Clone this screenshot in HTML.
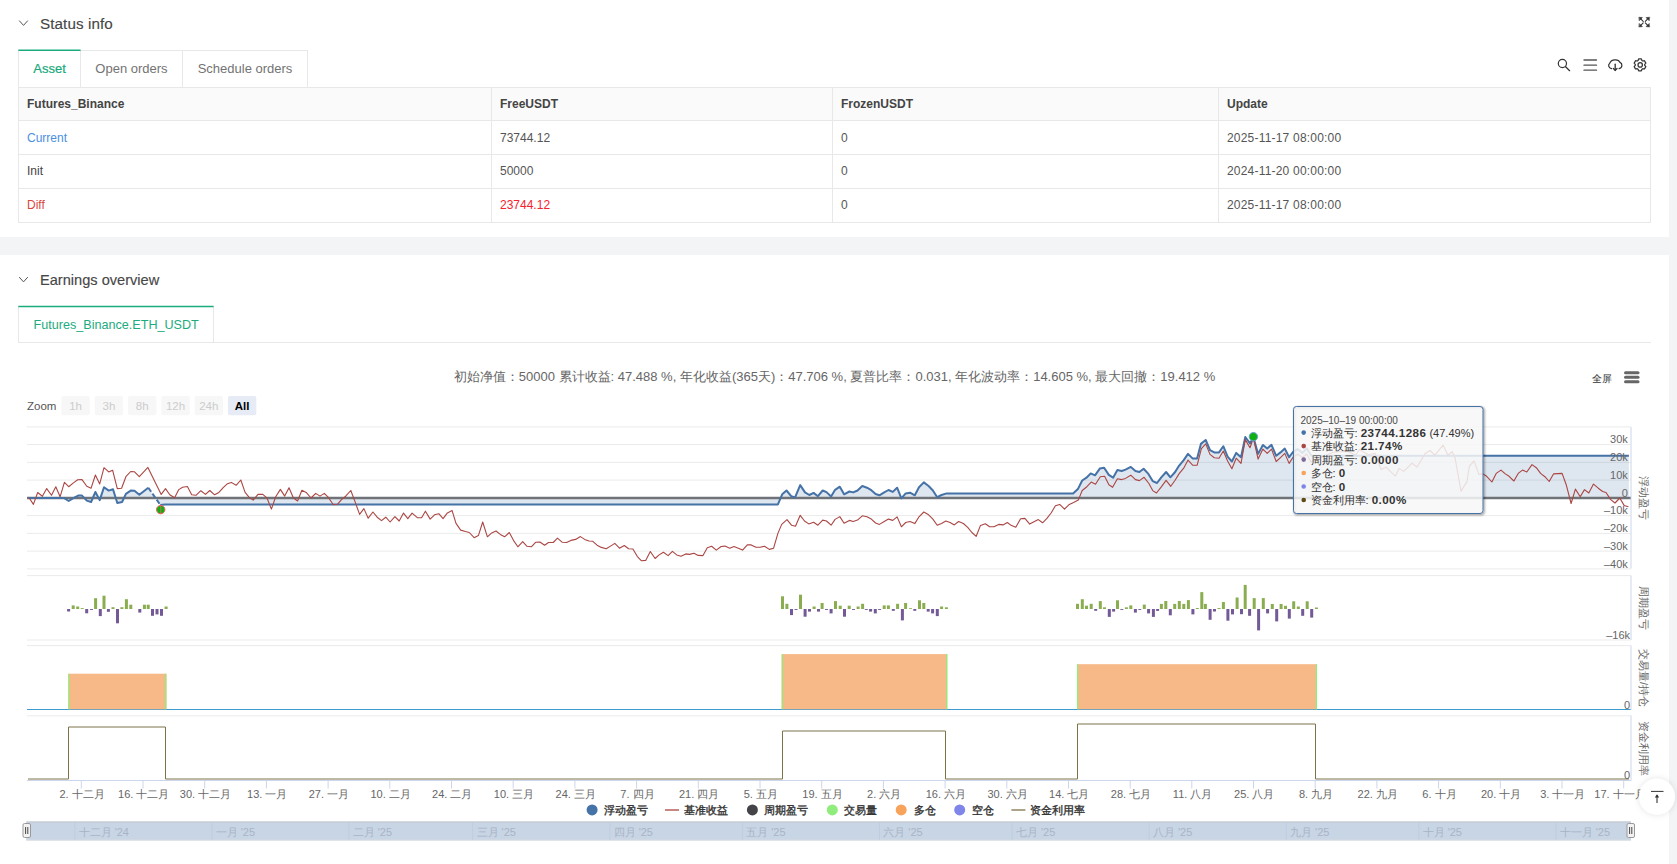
<!DOCTYPE html>
<html><head><meta charset="utf-8"><title>Status</title>
<style>
*{box-sizing:border-box}
html,body{margin:0;padding:0;background:#fff;width:1677px;height:864px;overflow:hidden;font-family:"Liberation Sans", sans-serif;color:#333}
.a{position:absolute}
.strip{left:1669px;top:0;width:8px;height:864px;background:#f3f4f6}
.band{left:0;top:237px;width:1669px;height:18px;background:#f3f4f6}
.h{font-size:15.2px;color:#474747;-webkit-text-stroke:0.15px #474747;letter-spacing:0.1px;line-height:18px;white-space:nowrap}
.tab{top:50px;height:37px;border:1px solid #e8e8e8;border-bottom:none;font-size:13px;color:#737373;text-align:center;line-height:36px;background:#fff}
.tab.act{color:#17a97b;border-top-color:#fff;-webkit-text-stroke:0.2px #17a97b}
.tbl{left:18px;top:87px;width:1633px;height:136px;border:1px solid #e8e8e8}
.row{position:absolute;left:0;width:1631px;border-bottom:1px solid #e8e8e8}
.cell{position:absolute;top:0;height:100%;font-size:12px;padding-left:8px;white-space:nowrap;border-left:1px solid #e8e8e8}
.hdr .cell{font-weight:bold;color:#444;top:0}
svg{position:absolute;left:0;top:0}
</style></head><body>
<div class="a strip"></div>
<div class="a band"></div>
<svg class="a" width="1677" height="864" viewBox="0 0 1677 864" style="left:0;top:0">
<polyline points="19.2,20.6 23.5,25.4 27.8,20.6" fill="none" stroke="#555" stroke-width="1"/>
<polyline points="19.2,277.1 23.5,281.9 27.8,277.1" fill="none" stroke="#555" stroke-width="1"/>
</svg>
<svg class="a" width="1677" height="864" viewBox="0 0 1677 864" style="left:0;top:0;z-index:5"><line x1="18.3" y1="50.3" x2="80.6" y2="50.3" stroke="#1bab7e" stroke-width="1.5"/><line x1="18.3" y1="306.4" x2="213.6" y2="306.4" stroke="#1bab7e" stroke-width="1.5"/></svg>
<div class="a h" style="left:40px;top:15px">Status info</div>
<div class="a h" style="left:40px;top:271px;font-size:14.6px;letter-spacing:0">Earnings overview</div>
<div class="a tab act" style="left:18px;width:63px">Asset</div>
<div class="a tab" style="left:80px;width:103px">Open orders</div>
<div class="a tab" style="left:182px;width:126px">Schedule orders</div>
<div class="a tbl">
 <div class="row hdr" style="top:0;height:33px;background:#fafafa">
  <div class="cell" style="left:0;border-left:none;line-height:33px">Futures_Binance</div>
  <div class="cell" style="left:472px;line-height:33px">FreeUSDT</div>
  <div class="cell" style="left:813px;line-height:33px">FrozenUSDT</div>
  <div class="cell" style="left:1199px;line-height:33px">Update</div>
 </div>
 <div class="row" style="top:33px;height:34px">
  <div class="cell" style="left:0;border-left:none;line-height:35px;color:#4a90e2">Current</div>
  <div class="cell" style="left:472px;line-height:35px;color:#555">73744.12</div>
  <div class="cell" style="left:813px;line-height:35px;color:#555">0</div>
  <div class="cell" style="left:1199px;line-height:35px;color:#555;letter-spacing:0.2px">2025-11-17 08:00:00</div>
 </div>
 <div class="row" style="top:67px;height:34px">
  <div class="cell" style="left:0;border-left:none;line-height:33px;color:#444">Init</div>
  <div class="cell" style="left:472px;line-height:33px;color:#555">50000</div>
  <div class="cell" style="left:813px;line-height:33px;color:#555">0</div>
  <div class="cell" style="left:1199px;line-height:33px;color:#555;letter-spacing:0.2px">2024-11-20 00:00:00</div>
 </div>
 <div class="row" style="top:101px;height:34px;border-bottom:none">
  <div class="cell" style="left:0;border-left:none;line-height:33px;color:#d9463e">Diff</div>
  <div class="cell" style="left:472px;line-height:33px;color:#f5222d">23744.12</div>
  <div class="cell" style="left:813px;line-height:33px;color:#555">0</div>
  <div class="cell" style="left:1199px;line-height:33px;color:#555;letter-spacing:0.2px">2025-11-17 08:00:00</div>
 </div>
</div>
<div class="a" style="left:18px;top:306px;width:196px;height:37px;border:1px solid #e8e8e8;border-top:1px solid #fff;border-bottom:none;font-size:12.6px;color:#1bab7e;line-height:36px;padding-left:14.6px;white-space:nowrap">Futures_Binance.ETH_USDT</div>
<div class="a" style="left:18px;top:342px;width:1633px;height:1px;background:#e8e8e8"></div>
<svg class="a" width="1677" height="864" viewBox="0 0 1677 864" style="font-family:"Liberation Sans", sans-serif">
<defs><filter id="sh" x="-50%" y="-50%" width="200%" height="200%"><feDropShadow dx="0" dy="0" stdDeviation="3" flood-color="#000" flood-opacity="0.12"/></filter></defs>
<!-- icons -->
<g fill="none" stroke="#333" stroke-width="1.3" stroke-linecap="round">
 <circle cx="1562.4" cy="63.5" r="4.1" stroke-width="1.2"/><line x1="1565.4" y1="66.5" x2="1569.6" y2="70.7" stroke-width="1.25"/>
 <line x1="1584" y1="60" x2="1596.5" y2="60" stroke="#555"/><line x1="1584" y1="65.2" x2="1596.5" y2="65.2" stroke="#555"/><line x1="1584" y1="70.2" x2="1596.5" y2="70.2" stroke="#555"/>
 <path d="M1611.6,68.7 C1608.6,68.2 1607.7,65 1609.8,63.1 C1611.2,59.2 1618.4,58.6 1620,62.4 C1622.7,63.6 1622.6,68 1619.1,68.7" stroke-width="1.25"/>
 <line x1="1615.2" y1="64.2" x2="1615.2" y2="70.3"/><polyline points="1613.4,68.5 1615.2,70.4 1617,68.5"/>
 <path d="M1638.07,60.51 L1638.63,58.91 L1641.37,58.91 L1641.93,60.51 L1642.79,61.01 L1644.46,60.69 L1645.83,63.07 L1644.72,64.35 L1644.72,65.35 L1645.83,66.63 L1644.46,69.01 L1642.79,68.69 L1641.93,69.19 L1641.37,70.79 L1638.63,70.79 L1638.07,69.19 L1637.21,68.69 L1635.54,69.01 L1634.17,66.63 L1635.28,65.35 L1635.28,64.35 L1634.17,63.07 L1635.54,60.69 L1637.21,61.01 Z" stroke-linejoin="round" stroke-width="1.25"/>
 <circle cx="1640.2" cy="64.9" r="2.2" stroke-width="1.25"/>
</g>
<g stroke="#333" stroke-width="1.1" stroke-linecap="round" fill="#333">
 <line x1="1640.5" y1="18.6" x2="1643.2" y2="21.3"/><polygon points="1639.2,17.3 1642.4,17.6 1639.5,20.5" stroke-width="0.6"/>
 <line x1="1648" y1="18.6" x2="1645.3" y2="21.3"/><polygon points="1649.3,17.3 1646.1,17.6 1649,20.5" stroke-width="0.6"/>
 <line x1="1640.5" y1="25.6" x2="1643.2" y2="22.9"/><polygon points="1639.2,26.9 1642.4,26.6 1639.5,23.7" stroke-width="0.6"/>
 <line x1="1648" y1="25.6" x2="1645.3" y2="22.9"/><polygon points="1649.3,26.9 1646.1,26.6 1649,23.7" stroke-width="0.6"/>
</g>
<text x="834.5" y="380.6" text-anchor="middle" font-size="13" fill="#666">初始净值：50000 累计收益: 47.488 %, 年化收益(365天)：47.706 %, 夏普比率：0.031, 年化波动率：14.605 %, 最大回撤：19.412 %</text>
<text x="1591.6" y="381.6" font-size="10.4" fill="#333">全屏</text>
<line x1="1625.5" y1="372.8" x2="1638" y2="372.8" stroke="#666" stroke-width="3" stroke-linecap="round"/>
<line x1="1625.5" y1="377.3" x2="1638" y2="377.3" stroke="#666" stroke-width="3" stroke-linecap="round"/>
<line x1="1625.5" y1="381.8" x2="1638" y2="381.8" stroke="#666" stroke-width="3" stroke-linecap="round"/>
<text x="27" y="410" font-size="11.5" fill="#555">Zoom</text>
<rect x="61.4" y="396" width="28.4" height="19.3" rx="2" fill="#f7f7f7"/>
<text x="75.6" y="410" text-anchor="middle" font-size="11.5" fill="#ccc">1h</text>
<rect x="94.7" y="396" width="28.4" height="19.3" rx="2" fill="#f7f7f7"/>
<text x="108.9" y="410" text-anchor="middle" font-size="11.5" fill="#ccc">3h</text>
<rect x="128.0" y="396" width="28.4" height="19.3" rx="2" fill="#f7f7f7"/>
<text x="142.2" y="410" text-anchor="middle" font-size="11.5" fill="#ccc">8h</text>
<rect x="161.3" y="396" width="28.4" height="19.3" rx="2" fill="#f7f7f7"/>
<text x="175.5" y="410" text-anchor="middle" font-size="11.5" fill="#ccc">12h</text>
<rect x="194.6" y="396" width="28.4" height="19.3" rx="2" fill="#f7f7f7"/>
<text x="208.8" y="410" text-anchor="middle" font-size="11.5" fill="#ccc">24h</text>
<rect x="227.9" y="396" width="28.4" height="19.3" rx="2" fill="#e6ebf5"/>
<text x="242.1" y="410" text-anchor="middle" font-size="11.5" font-weight="bold" fill="#000">All</text>
<line x1="27" y1="426.9" x2="1631" y2="426.9" stroke="#ebebeb" stroke-width="1"/>
<line x1="27" y1="444.6" x2="1631" y2="444.6" stroke="#ebebeb" stroke-width="1"/>
<line x1="27" y1="462.4" x2="1631" y2="462.4" stroke="#ebebeb" stroke-width="1"/>
<line x1="27" y1="480.1" x2="1631" y2="480.1" stroke="#ebebeb" stroke-width="1"/>
<line x1="27" y1="497.9" x2="1631" y2="497.9" stroke="#ebebeb" stroke-width="1"/>
<line x1="27" y1="515.6" x2="1631" y2="515.6" stroke="#ebebeb" stroke-width="1"/>
<line x1="27" y1="533.4" x2="1631" y2="533.4" stroke="#ebebeb" stroke-width="1"/>
<line x1="27" y1="551.1" x2="1631" y2="551.1" stroke="#ebebeb" stroke-width="1"/>
<line x1="27" y1="568.9" x2="1631" y2="568.9" stroke="#ebebeb" stroke-width="1"/>
<polygon points="28.5,498.0 28.5,498.0 63.9,498.0 68.7,501.0 73.4,498.2 78.2,495.6 82.0,495.6 86.8,500.6 91.1,502.0 95.4,492.0 99.7,500.1 104.0,487.2 108.7,490.6 113.0,489.3 117.3,503.0 122.1,502.0 125.9,493.9 130.7,490.6 134.5,490.8 139.3,494.7 148.3,487.7 160.3,504.9 165.0,504.4 777.9,504.4 782.2,494.3 786.5,490.5 791.2,496.2 795.1,497.4 800.2,485.1 805.0,492.4 809.3,495.0 813.6,492.9 817.9,496.2 822.7,490.5 826.5,492.1 831.1,496.5 835.1,489.8 839.8,486.7 844.1,494.3 849.4,491.5 853.2,492.4 857.5,490.5 862.3,486.0 867.0,487.7 871.3,490.2 875.6,494.0 879.4,495.3 884.2,492.4 888.5,490.0 892.8,491.9 897.1,487.7 901.4,498.4 905.7,493.4 910.0,492.7 914.8,495.3 919.0,487.2 923.8,482.4 928.6,486.0 932.9,490.5 937.2,497.2 941.5,495.0 946.7,493.4 1073.1,493.4 1077.9,489.1 1082.2,480.5 1086.5,477.7 1090.7,473.4 1095.0,475.3 1099.8,468.6 1104.1,467.8 1108.8,474.9 1113.1,477.7 1117.4,470.1 1121.7,471.0 1125.5,469.6 1130.8,466.9 1135.5,471.0 1139.4,472.0 1143.6,468.7 1148.4,473.9 1152.7,481.1 1157.0,483.0 1161.3,477.3 1166.1,472.0 1170.4,477.3 1175.1,472.0 1179.0,465.8 1183.7,460.1 1188.0,453.9 1192.8,458.6 1197.1,458.6 1200.9,443.9 1205.7,440.0 1210.0,450.1 1214.3,452.4 1219.0,452.4 1223.3,446.2 1227.6,456.7 1231.9,461.5 1236.2,452.9 1241.0,457.2 1245.3,437.0 1250.0,443.4 1253.4,437.2 1258.1,453.9 1262.9,445.0 1267.2,448.6 1271.5,444.8 1276.2,455.8 1280.5,452.4 1284.8,448.6 1289.1,457.2 1293.4,451.5 1297.7,449.1 1302.5,452.9 1306.8,448.4 1311.5,455.8 1628.9,455.8 1628.9,498.0" fill="#4572a7" fill-opacity="0.175"/>
<line x1="27" y1="498" x2="1631" y2="498" stroke="#6f7378" stroke-width="2.4"/>
<polyline points="28.5,498.0 63.9,498.0 68.7,501.0 73.4,498.2 78.2,495.6 82.0,495.6 86.8,500.6 91.1,502.0 95.4,492.0 99.7,500.1 104.0,487.2 108.7,490.6 113.0,489.3 117.3,503.0 122.1,502.0 125.9,493.9 130.7,490.6 134.5,490.8 139.3,494.7 148.3,487.7" fill="none" stroke="#4572a7" stroke-width="2" stroke-linejoin="round"/>
<polyline points="148.3,487.7 160.3,504.9" fill="none" stroke="#4572a7" stroke-width="2" stroke-dasharray="5,2.3"/>
<polyline points="160.3,504.9 165.0,504.4 777.9,504.4 782.2,494.3 786.5,490.5 791.2,496.2 795.1,497.4 800.2,485.1 805.0,492.4 809.3,495.0 813.6,492.9 817.9,496.2 822.7,490.5 826.5,492.1 831.1,496.5 835.1,489.8 839.8,486.7 844.1,494.3 849.4,491.5 853.2,492.4 857.5,490.5 862.3,486.0 867.0,487.7 871.3,490.2 875.6,494.0 879.4,495.3 884.2,492.4 888.5,490.0 892.8,491.9 897.1,487.7 901.4,498.4 905.7,493.4 910.0,492.7 914.8,495.3 919.0,487.2 923.8,482.4 928.6,486.0 932.9,490.5 937.2,497.2 941.5,495.0 946.7,493.4 1073.1,493.4 1077.9,489.1 1082.2,480.5 1086.5,477.7 1090.7,473.4 1095.0,475.3 1099.8,468.6 1104.1,467.8 1108.8,474.9 1113.1,477.7 1117.4,470.1 1121.7,471.0 1125.5,469.6 1130.8,466.9 1135.5,471.0 1139.4,472.0 1143.6,468.7 1148.4,473.9 1152.7,481.1 1157.0,483.0 1161.3,477.3 1166.1,472.0 1170.4,477.3 1175.1,472.0 1179.0,465.8 1183.7,460.1 1188.0,453.9 1192.8,458.6 1197.1,458.6 1200.9,443.9 1205.7,440.0 1210.0,450.1 1214.3,452.4 1219.0,452.4 1223.3,446.2 1227.6,456.7 1231.9,461.5 1236.2,452.9 1241.0,457.2 1245.3,437.0 1250.0,443.4 1253.4,437.2 1258.1,453.9 1262.9,445.0 1267.2,448.6 1271.5,444.8 1276.2,455.8 1280.5,452.4 1284.8,448.6 1289.1,457.2 1293.4,451.5 1297.7,449.1 1302.5,452.9 1306.8,448.4 1311.5,455.8 1628.9,455.8" fill="none" stroke="#4572a7" stroke-width="2" stroke-linejoin="round"/>
<polyline points="29.1,497.7 33.4,504.4 37.7,492.5 42.4,496.3 46.7,488.6 51.5,495.3 55.8,486.7 60.1,496.8 64.4,482.4 68.7,486.7 73.4,482.9 77.7,479.8 82.0,479.6 86.8,486.3 91.1,488.2 95.4,475.0 99.7,483.9 104.0,467.7 108.7,471.9 112.6,470.2 117.3,488.6 121.6,488.2 125.9,476.7 130.7,471.5 134.5,471.8 139.3,476.7 147.9,467.4 161.2,494.4 165.5,488.6 169.8,494.8 174.6,497.7 178.8,489.6 182.6,487.2 187.4,486.5 191.7,494.8 196.0,495.3 200.8,490.7 205.5,494.4 209.8,490.5 214.6,494.8 218.9,492.4 223.2,487.7 227.5,483.7 231.3,482.4 236.1,485.3 240.8,480.0 245.1,492.4 249.0,497.2 253.2,500.1 258.0,494.4 262.8,494.4 267.1,498.2 271.4,509.1 275.7,496.7 280.4,489.4 284.7,496.1 289.0,487.7 293.3,497.7 297.6,501.0 301.9,490.3 306.2,492.4 311.0,498.0 315.7,493.4 320.0,496.1 324.3,493.4 328.6,497.7 333.3,504.8 337.6,504.2 341.5,499.6 345.7,496.2 350.8,490.5 355.3,502.4 359.6,514.4 363.9,508.6 368.2,518.2 372.9,512.0 377.2,517.2 381.5,520.6 385.8,517.2 390.1,522.0 394.9,516.6 399.2,521.0 403.5,513.1 407.8,518.7 412.1,513.1 417.3,517.7 421.6,517.7 425.4,511.2 430.2,519.1 434.5,514.8 438.8,513.7 443.1,518.7 447.4,512.9 452.1,510.6 456.0,523.4 460.7,530.1 465.5,531.5 469.3,532.5 474.1,537.7 478.4,535.6 482.7,522.0 487.4,536.8 491.7,532.9 496.0,531.0 500.3,534.4 504.6,536.8 509.3,532.5 513.6,540.6 517.9,546.8 522.7,541.7 527.0,546.3 531.3,546.8 535.6,542.3 539.9,542.0 544.6,545.3 548.5,542.5 553.2,542.5 557.5,538.2 562.3,542.3 566.6,542.5 570.9,540.4 575.6,539.4 580.4,536.6 584.7,539.4 589.0,541.0 592.8,541.3 597.1,545.2 601.4,547.4 606.2,548.7 610.5,546.1 614.8,543.4 619.5,548.2 624.3,545.5 628.6,548.7 632.9,549.0 637.2,556.3 641.5,560.8 645.7,560.4 650.3,551.5 655.1,558.5 659.1,554.9 663.4,552.2 668.1,555.6 672.4,551.3 676.7,554.9 681.0,556.3 685.8,553.9 689.6,554.4 693.9,553.2 698.2,555.4 703.0,555.6 707.3,547.7 711.6,546.3 716.3,550.1 721.1,546.5 724.9,546.1 729.7,548.2 734.0,546.5 738.3,548.2 742.6,550.1 747.3,544.9 751.2,544.9 755.9,547.3 760.2,547.3 764.5,546.3 769.3,549.4 773.6,548.2 777.9,533.4 781.7,524.4 787.0,519.6 791.7,525.3 795.5,526.3 800.2,515.3 804.5,521.0 808.8,523.9 813.6,522.3 817.9,525.2 822.7,520.1 826.5,521.0 831.1,525.2 835.1,519.4 839.8,516.6 844.1,523.2 849.4,520.4 853.2,521.5 857.5,520.1 862.3,515.8 867.0,516.8 871.3,519.1 875.6,523.0 879.4,524.4 884.2,521.5 888.5,519.1 892.8,520.4 897.1,516.9 901.4,526.8 905.7,522.5 910.0,521.5 914.8,523.6 919.0,516.8 923.8,512.0 928.6,514.8 932.9,519.1 937.2,525.3 941.5,523.4 945.8,521.0 950.1,522.5 954.3,524.9 958.6,521.5 963.4,523.5 967.7,527.3 971.9,532.5 976.2,536.3 980.5,525.4 985.3,523.7 989.6,526.8 993.9,526.8 998.7,524.4 1003.0,524.9 1007.3,522.5 1011.5,525.6 1015.8,527.3 1020.6,518.7 1024.9,518.4 1029.7,524.1 1034.0,521.8 1038.3,519.6 1042.6,522.8 1046.9,518.4 1051.1,513.0 1055.4,505.8 1059.7,504.4 1064.5,509.1 1069.3,504.4 1073.6,502.5 1078.3,500.1 1082.2,490.5 1086.9,486.7 1091.2,482.1 1095.5,484.3 1100.3,476.7 1104.6,476.2 1108.9,484.8 1112.6,487.3 1117.4,478.7 1121.7,479.6 1125.5,478.4 1130.8,475.2 1135.5,479.6 1139.4,480.6 1144.1,477.3 1148.9,483.5 1152.7,490.6 1156.5,493.0 1161.3,486.8 1166.1,480.3 1170.8,486.3 1175.1,480.3 1179.0,473.9 1183.7,468.2 1188.0,460.1 1192.8,465.3 1197.1,465.3 1201.4,448.6 1205.7,443.9 1210.0,454.4 1214.3,457.7 1219.0,458.2 1223.3,451.0 1227.6,461.0 1231.9,468.7 1236.2,458.2 1241.0,463.4 1245.3,439.6 1250.0,447.7 1253.4,438.1 1258.1,459.1 1262.9,449.1 1267.2,453.4 1271.5,449.1 1276.2,461.5 1280.5,457.7 1284.8,453.4 1289.1,463.4 1293.4,456.7 1297.9,454.2 1302.5,457.5 1306.8,454.0 1311.0,461.9 1316.3,459.0 1321.0,457.5 1327.0,455.0 1333.2,452.3 1340.0,451.8 1347.5,451.4 1355.6,455.0 1359.4,449.5 1362.7,451.4 1368.5,454.7 1375.1,453.3 1381.1,469.6 1385.9,467.2 1395.4,476.2 1399.0,468.4 1403.8,471.4 1412.1,463.1 1416.9,467.2 1425.2,453.5 1430.0,450.5 1434.8,455.1 1443.1,445.2 1447.9,455.1 1452.1,451.7 1455.0,457.7 1461.0,491.1 1467.0,481.6 1469.4,466.0 1474.1,461.0 1478.9,474.4 1482.9,473.9 1486.7,476.3 1491.9,482.0 1496.2,473.4 1501.0,470.1 1505.3,473.9 1509.1,476.3 1513.9,481.0 1518.2,473.4 1522.5,470.1 1526.8,472.0 1532.0,464.6 1536.3,467.7 1540.6,473.4 1544.9,476.7 1549.2,481.5 1553.5,473.9 1562.1,473.4 1566.4,485.3 1571.1,503.5 1575.4,489.1 1580.2,496.8 1584.5,489.6 1588.8,493.0 1593.5,484.1 1598.3,488.2 1602.6,491.5 1606.0,492.5 1610.7,499.6 1615.0,503.0 1619.8,498.0 1624.1,505.4 1628.4,506.8" fill="none" stroke="#aa4643" stroke-width="1.1" stroke-linejoin="round"/>
<circle cx="160.7" cy="509.6" r="4.2" fill="#10b010" stroke="#f06060" stroke-width="1"/>
<line x1="160.7" y1="505" x2="160.7" y2="514" stroke="#f06060" stroke-width="0.8"/>
<circle cx="1253.4" cy="436.7" r="4.2" fill="#10b010" stroke="#6f9fe0" stroke-width="1"/>
<line x1="1631" y1="427" x2="1631" y2="568.5" stroke="#ccd6eb" stroke-width="1"/>
<text x="1627.8" y="443.4" text-anchor="end" font-size="11" fill="#666">30k</text>
<text x="1627.8" y="461.2" text-anchor="end" font-size="11" fill="#666">20k</text>
<text x="1627.8" y="478.9" text-anchor="end" font-size="11" fill="#666">10k</text>
<text x="1627.8" y="496.7" text-anchor="end" font-size="11" fill="#666">0</text>
<text x="1627.8" y="514.4" text-anchor="end" font-size="11" fill="#666">&#8211;10k</text>
<text x="1627.8" y="532.2" text-anchor="end" font-size="11" fill="#666">&#8211;20k</text>
<text x="1627.8" y="549.9" text-anchor="end" font-size="11" fill="#666">&#8211;30k</text>
<text x="1627.8" y="567.7" text-anchor="end" font-size="11" fill="#666">&#8211;40k</text>
<text transform="translate(1644,497.5) rotate(90)" text-anchor="middle" y="4" font-size="11" fill="#666">浮动盈亏</text>
<line x1="27" y1="575.6" x2="1631" y2="575.6" stroke="#ebebeb"/>
<line x1="27" y1="640" x2="1631" y2="640" stroke="#ebebeb"/>
<line x1="1631" y1="575.6" x2="1631" y2="640" stroke="#ccd6eb"/>
<rect x="71.7" y="605.4" width="3" height="3.6" fill="#8aad50"/>
<rect x="76.2" y="606.5" width="3" height="2.5" fill="#8aad50"/>
<rect x="80.7" y="608.1" width="3" height="0.9" fill="#8aad50"/>
<rect x="94.1" y="598.2" width="3" height="10.8" fill="#8aad50"/>
<rect x="102.5" y="595.7" width="3" height="13.3" fill="#8aad50"/>
<rect x="111.5" y="607.2" width="3" height="1.8" fill="#8aad50"/>
<rect x="120.4" y="607.2" width="3" height="1.8" fill="#8aad50"/>
<rect x="124.9" y="599.2" width="3" height="9.8" fill="#8aad50"/>
<rect x="129.3" y="604.7" width="3" height="4.3" fill="#8aad50"/>
<rect x="142.9" y="604.7" width="3" height="4.3" fill="#8aad50"/>
<rect x="146.7" y="604.7" width="3" height="4.3" fill="#8aad50"/>
<rect x="164.6" y="606.5" width="3" height="2.5" fill="#8aad50"/>
<rect x="781.0" y="596.3" width="3" height="12.7" fill="#8aad50"/>
<rect x="785.4" y="603.8" width="3" height="5.2" fill="#8aad50"/>
<rect x="799.0" y="594.7" width="3" height="14.3" fill="#8aad50"/>
<rect x="812.6" y="606.5" width="3" height="2.5" fill="#8aad50"/>
<rect x="820.6" y="603.0" width="3" height="6.0" fill="#8aad50"/>
<rect x="834.0" y="601.1" width="3" height="7.9" fill="#8aad50"/>
<rect x="838.7" y="605.7" width="3" height="3.3" fill="#8aad50"/>
<rect x="847.7" y="605.7" width="3" height="3.3" fill="#8aad50"/>
<rect x="856.6" y="606.5" width="3" height="2.5" fill="#8aad50"/>
<rect x="861.1" y="603.8" width="3" height="5.2" fill="#8aad50"/>
<rect x="882.7" y="605.4" width="3" height="3.6" fill="#8aad50"/>
<rect x="886.9" y="605.4" width="3" height="3.6" fill="#8aad50"/>
<rect x="896.1" y="603.8" width="3" height="5.2" fill="#8aad50"/>
<rect x="904.1" y="603.0" width="3" height="6.0" fill="#8aad50"/>
<rect x="909.0" y="608.2" width="3" height="0.8" fill="#8aad50"/>
<rect x="918.0" y="600.3" width="3" height="8.7" fill="#8aad50"/>
<rect x="922.3" y="603.0" width="3" height="6.0" fill="#8aad50"/>
<rect x="940.1" y="606.5" width="3" height="2.5" fill="#8aad50"/>
<rect x="944.9" y="607.3" width="3" height="1.7" fill="#8aad50"/>
<rect x="1076.0" y="603.8" width="3" height="5.2" fill="#8aad50"/>
<rect x="1080.8" y="599.2" width="3" height="9.8" fill="#8aad50"/>
<rect x="1085.0" y="605.7" width="3" height="3.3" fill="#8aad50"/>
<rect x="1089.7" y="603.8" width="3" height="5.2" fill="#8aad50"/>
<rect x="1098.8" y="601.1" width="3" height="7.9" fill="#8aad50"/>
<rect x="1103.0" y="607.3" width="3" height="1.7" fill="#8aad50"/>
<rect x="1116.0" y="600.3" width="3" height="8.7" fill="#8aad50"/>
<rect x="1124.9" y="607.3" width="3" height="1.7" fill="#8aad50"/>
<rect x="1129.3" y="605.4" width="3" height="3.6" fill="#8aad50"/>
<rect x="1142.8" y="604.6" width="3" height="4.4" fill="#8aad50"/>
<rect x="1159.9" y="603.9" width="3" height="5.1" fill="#8aad50"/>
<rect x="1164.3" y="601.0" width="3" height="8.0" fill="#8aad50"/>
<rect x="1173.2" y="603.9" width="3" height="5.1" fill="#8aad50"/>
<rect x="1177.8" y="601.0" width="3" height="8.0" fill="#8aad50"/>
<rect x="1182.3" y="603.9" width="3" height="5.1" fill="#8aad50"/>
<rect x="1186.9" y="600.1" width="3" height="8.9" fill="#8aad50"/>
<rect x="1195.8" y="608.0" width="3" height="1.0" fill="#8aad50"/>
<rect x="1200.3" y="592.1" width="3" height="16.9" fill="#8aad50"/>
<rect x="1203.9" y="603.9" width="3" height="5.1" fill="#8aad50"/>
<rect x="1217.5" y="608.0" width="3" height="1.0" fill="#8aad50"/>
<rect x="1221.9" y="602.0" width="3" height="7.0" fill="#8aad50"/>
<rect x="1235.6" y="597.5" width="3" height="11.5" fill="#8aad50"/>
<rect x="1243.7" y="584.9" width="3" height="24.1" fill="#8aad50"/>
<rect x="1252.7" y="598.1" width="3" height="10.9" fill="#8aad50"/>
<rect x="1261.8" y="598.1" width="3" height="10.9" fill="#8aad50"/>
<rect x="1270.8" y="604.0" width="3" height="5.0" fill="#8aad50"/>
<rect x="1279.6" y="604.0" width="3" height="5.0" fill="#8aad50"/>
<rect x="1284.0" y="605.8" width="3" height="3.2" fill="#8aad50"/>
<rect x="1292.2" y="601.3" width="3" height="7.7" fill="#8aad50"/>
<rect x="1296.8" y="606.5" width="3" height="2.5" fill="#8aad50"/>
<rect x="1305.7" y="601.3" width="3" height="7.7" fill="#8aad50"/>
<rect x="1314.9" y="607.5" width="3" height="1.5" fill="#8aad50"/>
<rect x="67.1" y="609" width="3" height="2.5" fill="#735a96"/>
<rect x="85.2" y="609" width="3" height="4.3" fill="#735a96"/>
<rect x="90.0" y="609" width="3" height="0.9" fill="#735a96"/>
<rect x="98.8" y="609" width="3" height="7.1" fill="#735a96"/>
<rect x="106.9" y="609" width="3" height="2.8" fill="#735a96"/>
<rect x="116.0" y="609" width="3" height="14.3" fill="#735a96"/>
<rect x="138.3" y="609" width="3" height="3.6" fill="#735a96"/>
<rect x="151.0" y="609" width="3" height="6.8" fill="#735a96"/>
<rect x="155.5" y="609" width="3" height="5.4" fill="#735a96"/>
<rect x="160.0" y="609" width="3" height="6.8" fill="#735a96"/>
<rect x="790.0" y="609" width="3" height="6.1" fill="#735a96"/>
<rect x="794.5" y="609" width="3" height="0.9" fill="#735a96"/>
<rect x="803.6" y="609" width="3" height="7.7" fill="#735a96"/>
<rect x="808.0" y="609" width="3" height="2.6" fill="#735a96"/>
<rect x="817.0" y="609" width="3" height="2.6" fill="#735a96"/>
<rect x="825.0" y="609" width="3" height="0.9" fill="#735a96"/>
<rect x="829.6" y="609" width="3" height="4.4" fill="#735a96"/>
<rect x="843.0" y="609" width="3" height="7.7" fill="#735a96"/>
<rect x="852.0" y="609" width="3" height="0.9" fill="#735a96"/>
<rect x="864.8" y="609" width="3" height="0.9" fill="#735a96"/>
<rect x="869.1" y="609" width="3" height="2.6" fill="#735a96"/>
<rect x="873.8" y="609" width="3" height="4.4" fill="#735a96"/>
<rect x="878.1" y="609" width="3" height="0.9" fill="#735a96"/>
<rect x="891.8" y="609" width="3" height="1.8" fill="#735a96"/>
<rect x="900.9" y="609" width="3" height="11.4" fill="#735a96"/>
<rect x="913.3" y="609" width="3" height="1.8" fill="#735a96"/>
<rect x="926.7" y="609" width="3" height="2.6" fill="#735a96"/>
<rect x="931.1" y="609" width="3" height="4.4" fill="#735a96"/>
<rect x="935.8" y="609" width="3" height="7.1" fill="#735a96"/>
<rect x="1094.2" y="609" width="3" height="1.8" fill="#735a96"/>
<rect x="1107.8" y="609" width="3" height="7.9" fill="#735a96"/>
<rect x="1112.1" y="609" width="3" height="2.6" fill="#735a96"/>
<rect x="1120.3" y="609" width="3" height="0.9" fill="#735a96"/>
<rect x="1133.9" y="609" width="3" height="3.6" fill="#735a96"/>
<rect x="1138.3" y="609" width="3" height="0.9" fill="#735a96"/>
<rect x="1147.1" y="609" width="3" height="4.4" fill="#735a96"/>
<rect x="1151.9" y="609" width="3" height="7.9" fill="#735a96"/>
<rect x="1156.1" y="609" width="3" height="1.9" fill="#735a96"/>
<rect x="1168.8" y="609" width="3" height="6.3" fill="#735a96"/>
<rect x="1191.4" y="609" width="3" height="5.4" fill="#735a96"/>
<rect x="1208.6" y="609" width="3" height="10.8" fill="#735a96"/>
<rect x="1213.0" y="609" width="3" height="2.5" fill="#735a96"/>
<rect x="1226.4" y="609" width="3" height="11.7" fill="#735a96"/>
<rect x="1231.0" y="609" width="3" height="5.4" fill="#735a96"/>
<rect x="1240.0" y="609" width="3" height="5.2" fill="#735a96"/>
<rect x="1248.1" y="609" width="3" height="6.8" fill="#735a96"/>
<rect x="1257.1" y="609" width="3" height="21.4" fill="#735a96"/>
<rect x="1266.1" y="609" width="3" height="4.4" fill="#735a96"/>
<rect x="1275.2" y="609" width="3" height="12.4" fill="#735a96"/>
<rect x="1287.8" y="609" width="3" height="9.6" fill="#735a96"/>
<rect x="1301.2" y="609" width="3" height="6.8" fill="#735a96"/>
<rect x="1310.2" y="609" width="3" height="8.6" fill="#735a96"/>
<text x="1630" y="638.5" text-anchor="end" font-size="11" fill="#666">&#8211;16k</text>
<text transform="translate(1644,607.7) rotate(90)" text-anchor="middle" y="4" font-size="11" fill="#666">周期盈亏</text>
<line x1="27" y1="645.6" x2="1631" y2="645.6" stroke="#ebebeb"/>
<line x1="27" y1="709.5" x2="1631" y2="709.5" stroke="#3d9bd0" stroke-width="1.2"/>
<line x1="1631" y1="645.6" x2="1631" y2="710" stroke="#ccd6eb"/>
<rect x="68.3" y="673.7" width="98.1" height="35.6" fill="#f7b987"/>
<line x1="68.89999999999999" y1="673.7" x2="68.89999999999999" y2="709.3" stroke="#90ed7d" stroke-width="1.3"/>
<line x1="165.8" y1="673.7" x2="165.8" y2="709.3" stroke="#90ed7d" stroke-width="1.3"/>
<rect x="781.7" y="654.1" width="165.6" height="55.2" fill="#f7b987"/>
<line x1="782.3000000000001" y1="654.1" x2="782.3000000000001" y2="709.3" stroke="#90ed7d" stroke-width="1.3"/>
<line x1="946.6999999999999" y1="654.1" x2="946.6999999999999" y2="709.3" stroke="#90ed7d" stroke-width="1.3"/>
<rect x="1077" y="664.2" width="240.0" height="45.1" fill="#f7b987"/>
<line x1="1077.6" y1="664.2" x2="1077.6" y2="709.3" stroke="#90ed7d" stroke-width="1.3"/>
<line x1="1316.4" y1="664.2" x2="1316.4" y2="709.3" stroke="#90ed7d" stroke-width="1.3"/>
<text x="1630" y="708.5" text-anchor="end" font-size="11" fill="#666">0</text>
<text transform="translate(1644,678) rotate(90)" text-anchor="middle" y="4" font-size="11" fill="#666">交易量/持仓</text>
<line x1="27" y1="715.8" x2="1631" y2="715.8" stroke="#ebebeb"/>
<line x1="1631" y1="715.5" x2="1631" y2="780.5" stroke="#ccd6eb"/>
<line x1="27" y1="780.5" x2="1631" y2="780.5" stroke="#ccd6eb"/>
<path d="M28,779 H68.5 V727 H165.5 V779 H782.5 V731 H945.5 V779 H1077.5 V724 H1315.5 V779 H1629" fill="none" stroke="#7d7349" stroke-width="1"/>
<text x="1630" y="778.5" text-anchor="end" font-size="11" fill="#666">0</text>
<text transform="translate(1644,748) rotate(90)" text-anchor="middle" y="4" font-size="11" fill="#666">资金利用率</text>
<line x1="81.3" y1="780.5" x2="81.3" y2="788.5" stroke="#ccd6eb"/>
<text x="82.1" y="797.5" text-anchor="middle" font-size="11" fill="#666">2. 十二月</text>
<line x1="143.0" y1="780.5" x2="143.0" y2="788.5" stroke="#ccd6eb"/>
<text x="143.8" y="797.5" text-anchor="middle" font-size="11" fill="#666">16. 十二月</text>
<line x1="204.7" y1="780.5" x2="204.7" y2="788.5" stroke="#ccd6eb"/>
<text x="205.5" y="797.5" text-anchor="middle" font-size="11" fill="#666">30. 十二月</text>
<line x1="266.4" y1="780.5" x2="266.4" y2="788.5" stroke="#ccd6eb"/>
<text x="267.2" y="797.5" text-anchor="middle" font-size="11" fill="#666">13. 一月</text>
<line x1="328.1" y1="780.5" x2="328.1" y2="788.5" stroke="#ccd6eb"/>
<text x="328.9" y="797.5" text-anchor="middle" font-size="11" fill="#666">27. 一月</text>
<line x1="389.8" y1="780.5" x2="389.8" y2="788.5" stroke="#ccd6eb"/>
<text x="390.6" y="797.5" text-anchor="middle" font-size="11" fill="#666">10. 二月</text>
<line x1="451.5" y1="780.5" x2="451.5" y2="788.5" stroke="#ccd6eb"/>
<text x="452.3" y="797.5" text-anchor="middle" font-size="11" fill="#666">24. 二月</text>
<line x1="513.2" y1="780.5" x2="513.2" y2="788.5" stroke="#ccd6eb"/>
<text x="514.0" y="797.5" text-anchor="middle" font-size="11" fill="#666">10. 三月</text>
<line x1="574.9" y1="780.5" x2="574.9" y2="788.5" stroke="#ccd6eb"/>
<text x="575.7" y="797.5" text-anchor="middle" font-size="11" fill="#666">24. 三月</text>
<line x1="636.6" y1="780.5" x2="636.6" y2="788.5" stroke="#ccd6eb"/>
<text x="637.4" y="797.5" text-anchor="middle" font-size="11" fill="#666">7. 四月</text>
<line x1="698.3" y1="780.5" x2="698.3" y2="788.5" stroke="#ccd6eb"/>
<text x="699.1" y="797.5" text-anchor="middle" font-size="11" fill="#666">21. 四月</text>
<line x1="760.0" y1="780.5" x2="760.0" y2="788.5" stroke="#ccd6eb"/>
<text x="760.8" y="797.5" text-anchor="middle" font-size="11" fill="#666">5. 五月</text>
<line x1="821.7" y1="780.5" x2="821.7" y2="788.5" stroke="#ccd6eb"/>
<text x="822.5" y="797.5" text-anchor="middle" font-size="11" fill="#666">19. 五月</text>
<line x1="883.4" y1="780.5" x2="883.4" y2="788.5" stroke="#ccd6eb"/>
<text x="884.2" y="797.5" text-anchor="middle" font-size="11" fill="#666">2. 六月</text>
<line x1="945.1" y1="780.5" x2="945.1" y2="788.5" stroke="#ccd6eb"/>
<text x="945.9" y="797.5" text-anchor="middle" font-size="11" fill="#666">16. 六月</text>
<line x1="1006.8" y1="780.5" x2="1006.8" y2="788.5" stroke="#ccd6eb"/>
<text x="1007.6" y="797.5" text-anchor="middle" font-size="11" fill="#666">30. 六月</text>
<line x1="1068.5" y1="780.5" x2="1068.5" y2="788.5" stroke="#ccd6eb"/>
<text x="1069.3" y="797.5" text-anchor="middle" font-size="11" fill="#666">14. 七月</text>
<line x1="1130.2" y1="780.5" x2="1130.2" y2="788.5" stroke="#ccd6eb"/>
<text x="1131.0" y="797.5" text-anchor="middle" font-size="11" fill="#666">28. 七月</text>
<line x1="1191.8" y1="780.5" x2="1191.8" y2="788.5" stroke="#ccd6eb"/>
<text x="1192.6" y="797.5" text-anchor="middle" font-size="11" fill="#666">11. 八月</text>
<line x1="1253.5" y1="780.5" x2="1253.5" y2="788.5" stroke="#ccd6eb"/>
<text x="1254.3" y="797.5" text-anchor="middle" font-size="11" fill="#666">25. 八月</text>
<line x1="1315.2" y1="780.5" x2="1315.2" y2="788.5" stroke="#ccd6eb"/>
<text x="1316.0" y="797.5" text-anchor="middle" font-size="11" fill="#666">8. 九月</text>
<line x1="1376.9" y1="780.5" x2="1376.9" y2="788.5" stroke="#ccd6eb"/>
<text x="1377.7" y="797.5" text-anchor="middle" font-size="11" fill="#666">22. 九月</text>
<line x1="1438.6" y1="780.5" x2="1438.6" y2="788.5" stroke="#ccd6eb"/>
<text x="1439.4" y="797.5" text-anchor="middle" font-size="11" fill="#666">6. 十月</text>
<line x1="1500.3" y1="780.5" x2="1500.3" y2="788.5" stroke="#ccd6eb"/>
<text x="1501.1" y="797.5" text-anchor="middle" font-size="11" fill="#666">20. 十月</text>
<line x1="1562.0" y1="780.5" x2="1562.0" y2="788.5" stroke="#ccd6eb"/>
<text x="1562.8" y="797.5" text-anchor="middle" font-size="11" fill="#666">3. 十一月</text>
<line x1="1623.7" y1="780.5" x2="1623.7" y2="788.5" stroke="#ccd6eb"/>
<text x="1620.0" y="797.5" text-anchor="middle" font-size="11" fill="#666">17. 十一月</text>
<circle cx="592.1" cy="809.9" r="5.5" fill="#4572a7"/>
<text x="604" y="814" font-size="10.8" fill="#333" stroke="#333" stroke-width="0.35">浮动盈亏</text>
<line x1="665" y1="810" x2="679" y2="810" stroke="#aa4643" stroke-width="1.3"/>
<text x="683.8" y="814" font-size="10.8" fill="#333" stroke="#333" stroke-width="0.35">基准收益</text>
<circle cx="752.4" cy="809.9" r="5.5" fill="#434348"/>
<text x="763.7" y="814" font-size="10.8" fill="#333" stroke="#333" stroke-width="0.35">周期盈亏</text>
<circle cx="832.3" cy="809.9" r="5.5" fill="#90ed7d"/>
<text x="843.7" y="814" font-size="10.8" fill="#333" stroke="#333" stroke-width="0.35">交易量</text>
<circle cx="901.2" cy="809.9" r="5.5" fill="#f7a35c"/>
<text x="913.9" y="814" font-size="10.8" fill="#333" stroke="#333" stroke-width="0.35">多仓</text>
<circle cx="959.7" cy="809.9" r="5.5" fill="#8085e9"/>
<text x="972" y="814" font-size="10.8" fill="#333" stroke="#333" stroke-width="0.35">空仓</text>
<line x1="1011.4" y1="810" x2="1025.4" y2="810" stroke="#7d7349" stroke-width="1.3"/>
<text x="1029.9" y="814" font-size="10.8" fill="#333" stroke="#333" stroke-width="0.35">资金利用率</text>
<rect x="26.3" y="821.5" width="1604.6" height="18.9" fill="#c8d5e5"/>
<line x1="26.3" y1="822" x2="1631" y2="822" stroke="#c4c8cf" stroke-width="1"/>
<line x1="26.3" y1="840" x2="1631" y2="840" stroke="#d6d9de" stroke-width="1"/>
<line x1="74.8" y1="822" x2="74.8" y2="840" stroke="#bfcde0" stroke-width="1"/>
<text x="78.6" y="836" font-size="11" fill="#a8b4c6">十二月 '24</text>
<line x1="211.9" y1="822" x2="211.9" y2="840" stroke="#bfcde0" stroke-width="1"/>
<text x="215.7" y="836" font-size="11" fill="#a8b4c6">一月 '25</text>
<line x1="348.9" y1="822" x2="348.9" y2="840" stroke="#bfcde0" stroke-width="1"/>
<text x="352.7" y="836" font-size="11" fill="#a8b4c6">二月 '25</text>
<line x1="472.7" y1="822" x2="472.7" y2="840" stroke="#bfcde0" stroke-width="1"/>
<text x="476.5" y="836" font-size="11" fill="#a8b4c6">三月 '25</text>
<line x1="609.8" y1="822" x2="609.8" y2="840" stroke="#bfcde0" stroke-width="1"/>
<text x="613.6" y="836" font-size="11" fill="#a8b4c6">四月 '25</text>
<line x1="742.4" y1="822" x2="742.4" y2="840" stroke="#bfcde0" stroke-width="1"/>
<text x="746.2" y="836" font-size="11" fill="#a8b4c6">五月 '25</text>
<line x1="879.5" y1="822" x2="879.5" y2="840" stroke="#bfcde0" stroke-width="1"/>
<text x="883.3" y="836" font-size="11" fill="#a8b4c6">六月 '25</text>
<line x1="1012.1" y1="822" x2="1012.1" y2="840" stroke="#bfcde0" stroke-width="1"/>
<text x="1015.9" y="836" font-size="11" fill="#a8b4c6">七月 '25</text>
<line x1="1149.1" y1="822" x2="1149.1" y2="840" stroke="#bfcde0" stroke-width="1"/>
<text x="1152.9" y="836" font-size="11" fill="#a8b4c6">八月 '25</text>
<line x1="1286.2" y1="822" x2="1286.2" y2="840" stroke="#bfcde0" stroke-width="1"/>
<text x="1290.0" y="836" font-size="11" fill="#a8b4c6">九月 '25</text>
<line x1="1418.8" y1="822" x2="1418.8" y2="840" stroke="#bfcde0" stroke-width="1"/>
<text x="1422.6" y="836" font-size="11" fill="#a8b4c6">十月 '25</text>
<line x1="1555.9" y1="822" x2="1555.9" y2="840" stroke="#bfcde0" stroke-width="1"/>
<text x="1559.7" y="836" font-size="11" fill="#a8b4c6">十一月 '25</text>
<rect x="23.0" y="823.5" width="7.5" height="14" rx="1.5" fill="#f2f2f2" stroke="#999" stroke-width="1"/>
<line x1="25.6" y1="827" x2="25.6" y2="834" stroke="#333" stroke-width="0.9"/>
<line x1="27.8" y1="827" x2="27.8" y2="834" stroke="#333" stroke-width="0.9"/>
<rect x="1627.0" y="823.5" width="7.5" height="14" rx="1.5" fill="#f2f2f2" stroke="#999" stroke-width="1"/>
<line x1="1629.6" y1="827" x2="1629.6" y2="834" stroke="#333" stroke-width="0.9"/>
<line x1="1631.8" y1="827" x2="1631.8" y2="834" stroke="#333" stroke-width="0.9"/>
<rect x="1294.5" y="407.5" width="189.5" height="107" rx="3" fill="none" stroke="#000" stroke-opacity="0.05" stroke-width="5"/>
<rect x="1294.5" y="407.5" width="189.5" height="107" rx="3" fill="none" stroke="#000" stroke-opacity="0.1" stroke-width="3"/>
<rect x="1294.5" y="407.5" width="189.5" height="107" rx="3" fill="none" stroke="#000" stroke-opacity="0.15" stroke-width="1"/>
<rect x="1293.5" y="406.5" width="189.5" height="107" rx="3" fill="#f7f7f7" fill-opacity="0.85" stroke="#4572a7" stroke-width="1"/>
<text x="1300.5" y="423.5" font-size="10" fill="#4a4a4a">2025–10–19 00:00:00</text>
<circle cx="1303.7" cy="432.6" r="2.3" fill="#4572a7"/>
<text x="1310.5" y="436.6" font-size="11" fill="#333">浮动盈亏: <tspan font-weight="bold" font-size="11.6" letter-spacing="0.45">23744.1286</tspan> (47.49%)</text>
<circle cx="1303.7" cy="446.1" r="2.3" fill="#aa4643"/>
<text x="1310.5" y="450.1" font-size="11" fill="#333">基准收益: <tspan font-weight="bold" font-size="11.6" letter-spacing="0.45">21.74%</tspan></text>
<circle cx="1303.7" cy="459.6" r="2.3" fill="#80699b"/>
<text x="1310.5" y="463.6" font-size="11" fill="#333">周期盈亏: <tspan font-weight="bold" font-size="11.6" letter-spacing="0.45">0.0000</tspan></text>
<circle cx="1303.7" cy="473.0" r="2.3" fill="#f7a35c"/>
<text x="1310.5" y="477.0" font-size="11" fill="#333">多仓: <tspan font-weight="bold" font-size="11.6" letter-spacing="0.45">0</tspan></text>
<circle cx="1303.7" cy="486.5" r="2.3" fill="#8085e9"/>
<text x="1310.5" y="490.5" font-size="11" fill="#333">空仓: <tspan font-weight="bold" font-size="11.6" letter-spacing="0.45">0</tspan></text>
<circle cx="1303.7" cy="500.0" r="2.3" fill="#5c4a14"/>
<text x="1310.5" y="504.0" font-size="11" fill="#333">资金利用率: <tspan font-weight="bold" font-size="11.6" letter-spacing="0.45">0.00%</tspan></text>
<circle cx="1657" cy="796.7" r="18" fill="#fff" filter="url(#sh)"/>
<line x1="1651" y1="791.4" x2="1663.5" y2="791.4" stroke="#333" stroke-width="1"/>
<line x1="1657" y1="795" x2="1657" y2="803" stroke="#333" stroke-width="1.1"/>
<polygon points="1654.8,797.6 1657,794.2 1659.2,797.6" fill="#333"/>
</svg>
</body></html>
